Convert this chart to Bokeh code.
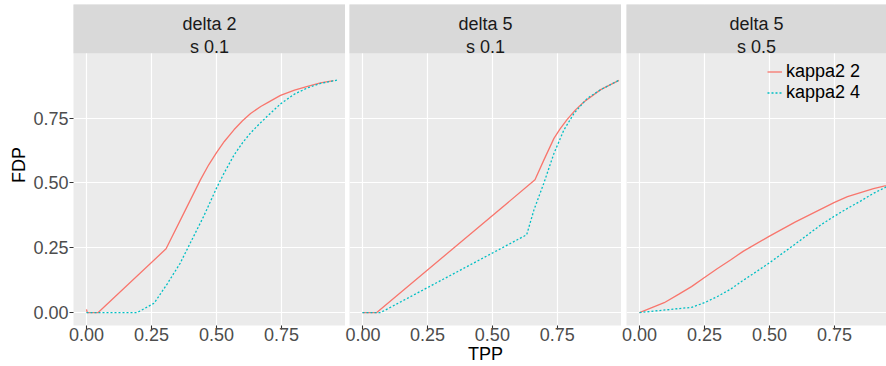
from bokeh.plotting import figure
from bokeh.layouts import row
from bokeh.models import (FixedTicker, Range1d, Legend, LegendItem,
                          ColumnDataSource, Grid)
from bokeh.embed import file_html
from bokeh.resources import INLINE
from bokeh.core.properties import value

# ---------------- data ----------------
facet_delta = ["delta 2", "delta 5", "delta 5"]
facet_s = ["s 0.1", "s 0.1", "s 0.5"]
series_names = ["kappa2 2", "kappa2 4"]
tick_values = [0.0, 0.25, 0.5, 0.75]
tick_labels = ["0.00", "0.25", "0.50", "0.75"]
x_title = "TPP"
y_title = "FDP"

# panel 1: delta 2, s 0.1
tpp_p1_k2 = [0.0, 0.003, 0.045, 0.306, 0.37, 0.438, 0.47, 0.50, 0.53,
             0.567, 0.60, 0.631, 0.67, 0.70, 0.746, 0.80, 0.85, 0.90, 0.95]
fdp_p1_k2 = [0.012, 0.0, 0.0, 0.246, 0.375, 0.512, 0.57, 0.617, 0.66,
             0.705, 0.74, 0.768, 0.795, 0.812, 0.838, 0.858, 0.873, 0.886, 0.895]
tpp_p1_k4 = [0.0, 0.195, 0.26, 0.31, 0.36, 0.41, 0.45, 0.50, 0.53, 0.567, 0.60,
             0.631, 0.665, 0.695, 0.746, 0.80, 0.85, 0.90, 0.965]
fdp_p1_k4 = [0.0, 0.0, 0.036, 0.11, 0.19, 0.29, 0.37, 0.48, 0.54, 0.607, 0.655,
             0.693, 0.728, 0.757, 0.805, 0.843, 0.867, 0.884, 0.897]

# panel 2: delta 5, s 0.1
tpp_p2_k2 = [0.0, 0.055, 0.664, 0.698, 0.737, 0.76, 0.788, 0.82, 0.852, 0.917, 0.987]
fdp_p2_k2 = [0.0, 0.0, 0.512, 0.588, 0.672, 0.708, 0.745, 0.782, 0.812, 0.86, 0.896]
tpp_p2_k4 = [0.0, 0.07, 0.632, 0.66, 0.698, 0.737, 0.775, 0.814, 0.865, 0.917, 0.987]
fdp_p2_k4 = [0.0, 0.0, 0.30, 0.396, 0.499, 0.614, 0.704, 0.768, 0.826, 0.86, 0.896]

# panel 3: delta 5, s 0.5
tpp_p3_k2 = [0.0, 0.095, 0.15, 0.20, 0.25, 0.30, 0.35, 0.40, 0.50, 0.60, 0.70,
             0.75, 0.80, 0.90, 0.99]
fdp_p3_k2 = [0.0, 0.038, 0.07, 0.10, 0.135, 0.17, 0.203, 0.237, 0.295, 0.35, 0.40,
             0.425, 0.447, 0.478, 0.50]
tpp_p3_k4 = [0.0, 0.10, 0.20, 0.25, 0.30, 0.35, 0.40, 0.45, 0.50, 0.60, 0.70,
             0.75, 0.80, 0.85, 0.90, 0.95, 0.99]
fdp_p3_k4 = [0.0, 0.01, 0.02, 0.038, 0.062, 0.09, 0.125, 0.158, 0.192, 0.265, 0.34,
             0.372, 0.402, 0.43, 0.46, 0.485, 0.50]

panels_data = [
    (tpp_p1_k2, fdp_p1_k2, tpp_p1_k4, fdp_p1_k4),
    (tpp_p2_k2, fdp_p2_k2, tpp_p2_k4, fdp_p2_k4),
    (tpp_p3_k2, fdp_p3_k2, tpp_p3_k4, fdp_p3_k4),
]

# ---------------- style ----------------
FONT = "Liberation Sans"
RED = "#F8766D"
CYAN = "#00BFC4"
PANEL_BG = "#EBEBEB"
STRIP_BG = "#D9D9D9"

widths = [345, 276, 265]
borders_left = [73, 4, 5]
x_ends = [0.996, 0.997, 0.95]
Y0, Y1 = -0.05, 1.1885
STRIP_BOTTOM = 1.0

figs = []
for i in range(3):
    show_y = (i == 0)
    p = figure(width=widths[i], height=366,
               x_range=Range1d(-0.05, x_ends[i]), y_range=Range1d(Y0, Y1),
               output_backend="svg", toolbar_location=None,
               min_border_left=borders_left[i], min_border_right=0,
               min_border_top=4, min_border_bottom=40,
               y_axis_location="left" if show_y else None)
    p.background_fill_color = PANEL_BG
    p.border_fill_color = "white"
    p.outline_line_color = None

    # grids
    p.xgrid.ticker = FixedTicker(ticks=tick_values)
    p.xgrid.grid_line_color = "white"
    p.xgrid.grid_line_width = 1.2
    if len(p.ygrid) == 0:
        p.add_layout(Grid(dimension=1, ticker=FixedTicker(ticks=tick_values)))
    p.ygrid.ticker = FixedTicker(ticks=tick_values)
    p.ygrid.grid_line_color = "white"
    p.ygrid.grid_line_width = 1.2

    overrides = {v: l for v, l in zip(tick_values, tick_labels)}
    axes = list(p.xaxis) + (list(p.yaxis) if show_y else [])
    for ax in axes:
        ax.ticker = FixedTicker(ticks=tick_values)
        ax.major_label_overrides = overrides
        ax.axis_line_color = None
        ax.major_tick_out = 4
        ax.major_tick_in = 0
        ax.minor_tick_out = 0
        ax.minor_tick_in = 0
        ax.major_tick_line_color = "#333333"
        ax.major_tick_line_width = 1.1
        ax.major_label_text_font = FONT
        ax.major_label_text_font_size = "18px"
        ax.major_label_text_color = "#4D4D4D"
        ax.axis_label_text_font = FONT
        ax.axis_label_text_font_size = "18px"
        ax.axis_label_text_font_style = "normal"
        ax.axis_label_text_color = "black"

    xa = p.xaxis[0]
    xa.major_label_standoff = -2
    xa.axis_label = x_title if i == 1 else " "
    xa.axis_label_standoff = 0
    if show_y:
        ya = p.yaxis[0]
        ya.major_label_standoff = 1
        ya.axis_label = y_title
        ya.axis_label_standoff = 1

    # facet strip
    p.quad(left=-1, right=2, bottom=STRIP_BOTTOM, top=3,
           fill_color=STRIP_BG, line_color=None)
    xc = (-0.05 + x_ends[i]) / 2
    p.text(x=[xc], y=[1.114], text=[facet_delta[i]], text_align="center",
           text_baseline="alphabetic", text_font=value(FONT),
           text_font_size="18px", text_color="#1A1A1A")
    p.text(x=[xc], y=[1.025], text=[facet_s[i]], text_align="center",
           text_baseline="alphabetic", text_font=value(FONT),
           text_font_size="18px", text_color="#1A1A1A")

    tx2, fy2, tx4, fy4 = panels_data[i]
    r1 = p.line(tx2, fy2, line_color=RED, line_width=1.3)
    r2 = p.line(tx4, fy4, line_color=CYAN, line_width=1.3, line_dash="2 2")

    if i == 2:
        bg = p.quad(source=ColumnDataSource(dict(l=[], r=[], t=[], b=[])),
                    left="l", right="r", top="t", bottom="b",
                    fill_color="#F2F2F2", line_color=None)
        legend = Legend(items=[
            LegendItem(label=series_names[0], renderers=[bg, r1]),
            LegendItem(label=series_names[1], renderers=[bg, r2]),
        ], location=(141, 222), background_fill_alpha=0,
            border_line_color=None, margin=0, padding=0, spacing=0,
            glyph_width=15, glyph_height=17, label_standoff=4,
            label_height=17, label_text_font=FONT,
            label_text_font_size="18px", label_text_color="black")
        p.add_layout(legend)
    figs.append(p)

layout = row(*figs)
open("out.html", "w").write(file_html(layout, INLINE))
